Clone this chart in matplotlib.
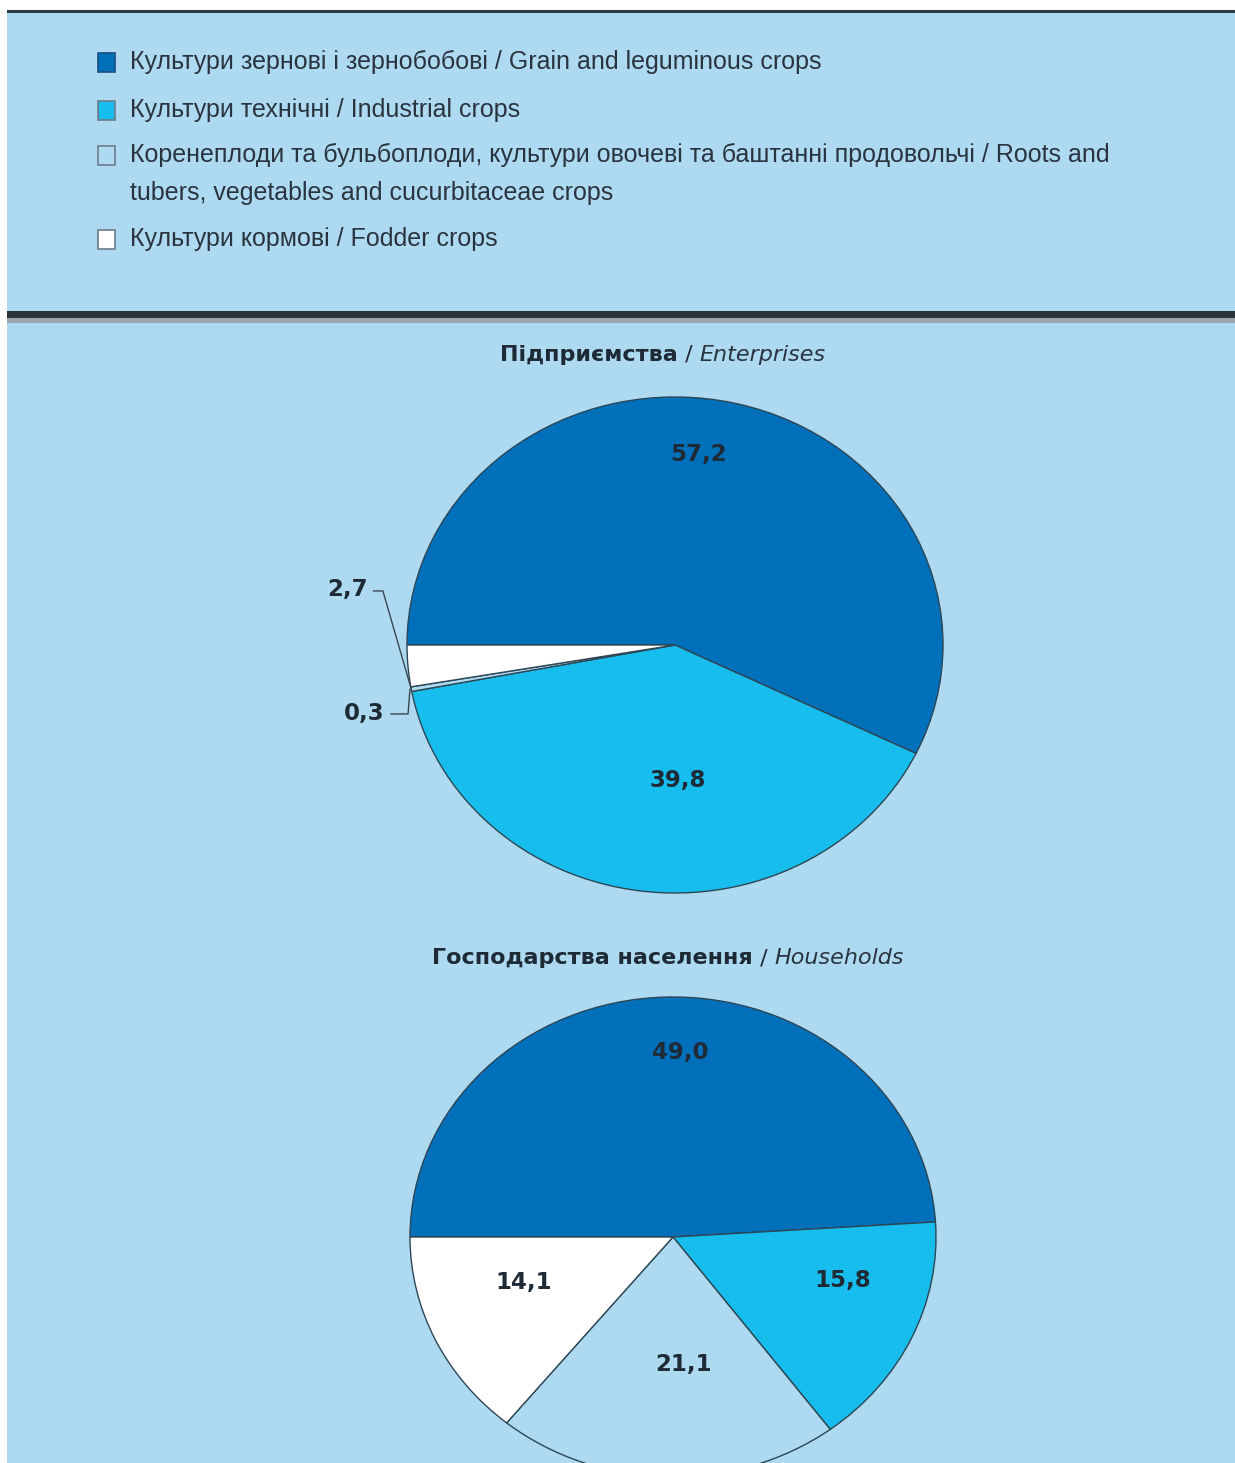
import matplotlib
matplotlib.use("Agg")
import numpy as np
import matplotlib.pyplot as plt
import matplotlib.patches as patches

# --- Data ---
legend_labels = [
    "Культури зернові і зернобобові / Grain and leguminous crops",
    "Культури технічні / Industrial crops",
    "Коренеплоди та бульбоплоди, культури овочеві та баштанні продовольчі / Roots and\n"
    "tubers, vegetables and cucurbitaceae crops",
    "Культури кормові / Fodder crops",
]
enterprises = [57.2, 39.8, 0.3, 2.7]
households = [49.0, 15.8, 21.1, 14.1]
title_ent = ("Підприємства", "Enterprises")
title_hh = ("Господарства населення", "Households")

# --- Style ---
W, H = 1235, 1463
BG = "#addaf0"
COLORS = ["#0070ba", "#17bdec", "#addaf0", "#ffffff"]
EDGE = "#2c4656"
TXT = "#1e2a36"
NUM_SIZE = 16.5


def fx(px):
    return px / W


def fy(py):
    return 1 - py / H


fig = plt.figure(figsize=(W / 100, H / 100), dpi=100, facecolor="white")

# panels and rules
fig.patches.append(patches.Rectangle((fx(7), 0), fx(W - 7), fy(10), transform=fig.transFigure,
                                     facecolor=BG, edgecolor="none", zorder=-5))
fig.patches.append(patches.Rectangle((fx(7), fy(13)), fx(W - 7), 3 / H, transform=fig.transFigure,
                                     facecolor="#2b3848", edgecolor="none", zorder=-4))
fig.patches.append(patches.Rectangle((fx(7), fy(318)), fx(W - 7), 7 / H, transform=fig.transFigure,
                                     facecolor="#2a323c", edgecolor="none", zorder=-4))
fig.patches.append(patches.Rectangle((fx(7), fy(323)), fx(W - 7), 5 / H, transform=fig.transFigure,
                                     facecolor="#9aa6ae", edgecolor="none", zorder=-4))

# --- Legend ---
row_y = [62, 110, 155, 239]
for lab, col, y in zip(legend_labels, COLORS, row_y):
    ec = "#1a4f80" if col == COLORS[0] else "#6a7c88"
    fig.patches.append(patches.Rectangle((fx(98), fy(y + 10)), fx(17), 19 / H, transform=fig.transFigure,
                                         facecolor=col, edgecolor=ec, linewidth=1.2, zorder=2))
    fig.text(fx(130), fy(y - 12), lab, ha="left", va="top", fontsize=18, family="Liberation Sans",
             color="#2a3440", linespacing=1.75)


def title(text_pair, cx, cy):
    bold = fig.text(0, fy(cy), text_pair[0], fontsize=16, fontweight="bold", family="DejaVu Sans",
                    color=TXT, va="center")
    sep = fig.text(0, fy(cy), " / ", fontsize=16, family="DejaVu Sans", color=TXT, va="center")
    ital = fig.text(0, fy(cy), text_pair[1], fontsize=16, style="italic", family="DejaVu Sans",
                    color="#2a3440", va="center")
    fig.canvas.draw()
    r = fig.canvas.get_renderer()
    widths = [t.get_window_extent(r).width for t in (bold, sep, ital)]
    x = cx - sum(widths) / 2
    for t, w in zip((bold, sep, ital), widths):
        t.set_x(fx(x))
        x += w


def fmt(v):
    return f"{v:.1f}".replace(".", ",")


def draw_pie(vals, cx, cy, rx, ry, label_pos):
    ax = fig.add_axes([fx(cx - rx), fy(cy + ry), 2 * rx / W, 2 * ry / H])
    wedges, _ = ax.pie(vals, colors=COLORS, startangle=180, counterclock=False,
                       wedgeprops=dict(edgecolor=EDGE, linewidth=1.0))
    ax.set_aspect("auto")
    ax.set_xlim(-1, 1)
    ax.set_ylim(-1, 1)
    ax.axis("off")
    for v, pos in zip(vals, label_pos):
        if pos is None:
            continue
        ax.text(pos[0], pos[1], fmt(v), ha="center", va="center",
                fontsize=NUM_SIZE, fontweight="bold", family="DejaVu Sans", color=TXT)
    return ax, wedges


# --- Enterprises ---
title(title_ent, 663, 355)
ax1, w1 = draw_pie(enterprises, 675, 645, 268, 248,
                   [(0.086, 0.77), (0.01, -0.545), None, None])
# leader lines for the two small slices
roots = w1[2]
mid = np.deg2rad((roots.theta1 + roots.theta2) / 2)
px, py = np.cos(mid), np.sin(mid)
ax1.plot([px, -1.09, -1.125], [py, 0.218, 0.218], color="#3a4650", lw=1.0, clip_on=False)
ax1.plot([px - 0.005, px - 0.012, -1.06], [py, -0.278, -0.278], color="#3a4650", lw=1.0, clip_on=False)
ax1.text(-1.145, 0.225, fmt(enterprises[3]), ha="right", va="center",
         fontsize=NUM_SIZE, fontweight="bold", family="DejaVu Sans", color=TXT)
ax1.text(-1.085, -0.275, fmt(enterprises[2]), ha="right", va="center",
         fontsize=NUM_SIZE, fontweight="bold", family="DejaVu Sans", color=TXT)

# --- Households ---
title(title_hh, 668, 958)
draw_pie(households, 673, 1237, 263, 240,
         [(0.027, 0.77), (0.646, -0.18), (0.04, -0.53), (-0.567, -0.19)])

plt.savefig("out.png", dpi=100, facecolor=fig.get_facecolor())
